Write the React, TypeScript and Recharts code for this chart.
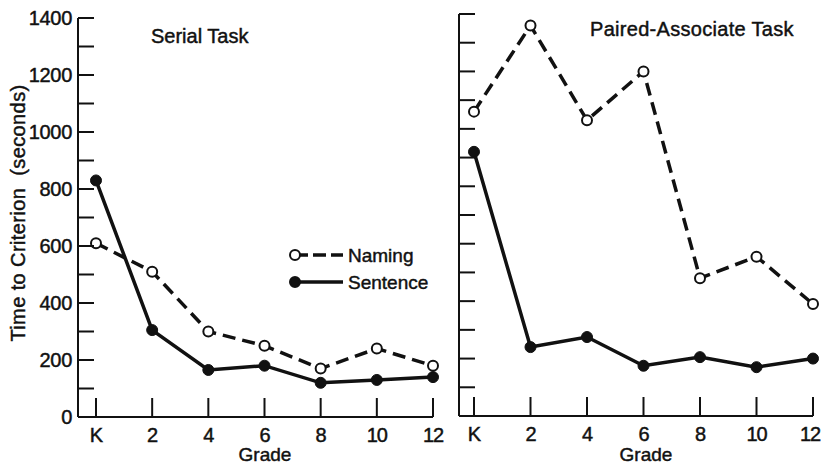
import React from 'react';
import { LineChart, Line, XAxis, YAxis, Legend } from 'recharts';

const grades = ['K', '2', '4', '6', '8', '10', '12'];
const serialNaming = [610, 510, 300, 250, 170, 240, 180];
const serialSentence = [830, 305, 165, 180, 120, 130, 140];
const pairedNaming = [1060, 1360, 1030, 1200, 480, 555, 390];
const pairedSentence = [920, 240, 275, 175, 205, 170, 200];
const yTicks = [0, 100, 200, 300, 400, 500, 600, 700, 800, 900, 1000, 1100, 1200, 1300, 1400];
const yLabelTicks = [0, 200, 400, 600, 800, 1000, 1200, 1400];

const serialData = grades.map((g, i) => ({ grade: g, naming: serialNaming[i], sentence: serialSentence[i] }));
const pairedData = grades.map((g, i) => ({ grade: g, naming: pairedNaming[i], sentence: pairedSentence[i] }));

const FONT = '"Liberation Sans", Arial, sans-serif';
const INK = '#111';
const TXT = { fontFamily: FONT, fill: INK, stroke: INK, strokeWidth: 0.45 };

const YTick = (props: any) => {
  const { x, y, payload, showLabel } = props;
  const v = payload.value;
  return (
    <g>
      {v !== 0 && <line x1={x} x2={x + 16} y1={y} y2={y} stroke={INK} strokeWidth={2} />}
      {showLabel && yLabelTicks.includes(v) && (
        <text x={x - 6} y={y + 7} textAnchor="end" fontSize={20} letterSpacing={-0.3} {...TXT}>
          {v}
        </text>
      )}
    </g>
  );
};

const XTick = (props: any) => {
  const { x, y, payload, maxX } = props;
  return (
    <g>
      <line x1={x} x2={x} y1={y} y2={y - 19} stroke={INK} strokeWidth={2} />
      <text x={Math.min(x, maxX)} y={y + 25} textAnchor="middle" fontSize={20} letterSpacing={-1} {...TXT}>
        {payload.value}
      </text>
    </g>
  );
};

const LegendContent = (props: any) => {
  const payload = props.payload || [];
  return (
    <svg width={160} height={54} style={{ overflow: 'visible', display: 'block' }}>
      {payload.map((p: any, i: number) => {
        const cy = 12 + i * 27;
        const dashed = p.dataKey === 'naming';
        return (
          <g key={p.dataKey}>
            <line x1={9} x2={57} y1={cy} y2={cy} stroke={INK} strokeWidth={3.5} strokeDasharray={dashed ? '13 5' : undefined} />
            <circle cx={9} cy={cy} r={5} fill={dashed ? '#fff' : INK} stroke={INK} strokeWidth={2} />
            <text x={62} y={cy + 7} fontSize={19} {...TXT}>
              {p.value}
            </text>
          </g>
        );
      })}
    </svg>
  );
};

const openDot = { r: 5, fill: '#fff', stroke: INK, strokeWidth: 2, strokeDasharray: '0' };
const fullDot = { r: 5.5, fill: INK, stroke: INK, strokeWidth: 1 };

export default function App() {
  return (
    <div style={{ position: 'absolute', left: 0, top: 0, width: 821, height: 464, background: '#fff', overflow: 'hidden' }}>
      <div style={{ position: 'absolute', left: 0, top: 0 }}>
        <LineChart width={460} height={464} data={serialData} margin={{ top: 18, left: 77, right: 27, bottom: 46 }}>
          <XAxis
            dataKey="grade"
            type="category"
            height={1}
            padding={{ left: 18, right: 0 }}
            tickSize={0}
            tickMargin={0}
            interval={0}
            tickLine={false}
            axisLine={{ stroke: INK, strokeWidth: 2 }}
            tick={(p: any) => <XTick {...p} maxX={1000} />}
          />
          <YAxis
            type="number"
            width={1}
            domain={[0, 1400]}
            ticks={yTicks}
            interval={0}
            tickSize={0}
            tickMargin={0}
            tickLine={false}
            axisLine={{ stroke: INK, strokeWidth: 2 }}
            tick={(p: any) => <YTick {...p} showLabel />}
          />
          <Legend
            layout="vertical"
            align="center"
            verticalAlign="middle"
            content={<LegendContent />}
            wrapperStyle={{ position: 'absolute', left: 286, top: 243, width: 160, height: 54 }}
          />
          <Line
            dataKey="naming"
            name="Naming"
            stroke={INK}
            strokeWidth={3.5}
            strokeDasharray="13 7"
            dot={openDot}
            activeDot={false}
            isAnimationActive={false}
          />
          <Line
            dataKey="sentence"
            name="Sentence"
            stroke={INK}
            strokeWidth={3.5}
            dot={fullDot}
            activeDot={false}
            isAnimationActive={false}
          />
        </LineChart>
      </div>
      <div style={{ position: 'absolute', left: 440, top: 0 }}>
        <LineChart width={381} height={464} data={pairedData} margin={{ top: 14, left: 18, right: 8, bottom: 47 }}>
          <XAxis
            dataKey="grade"
            type="category"
            height={1}
            padding={{ left: 15, right: 0 }}
            tickSize={0}
            tickMargin={0}
            interval={0}
            tickLine={false}
            axisLine={{ stroke: INK, strokeWidth: 2 }}
            tick={(p: any) => <XTick {...p} maxX={370} />}
          />
          <YAxis
            type="number"
            width={1}
            domain={[0, 1400]}
            ticks={yTicks}
            interval={0}
            tickSize={0}
            tickMargin={0}
            tickLine={false}
            axisLine={{ stroke: INK, strokeWidth: 2 }}
            tick={(p: any) => <YTick {...p} showLabel={false} />}
          />
          <Line
            dataKey="naming"
            name="Naming"
            stroke={INK}
            strokeWidth={3.5}
            strokeDasharray="13 7"
            dot={openDot}
            activeDot={false}
            isAnimationActive={false}
          />
          <Line
            dataKey="sentence"
            name="Sentence"
            stroke={INK}
            strokeWidth={3.5}
            dot={fullDot}
            activeDot={false}
            isAnimationActive={false}
          />
        </LineChart>
      </div>
      <svg width={821} height={464} style={{ position: 'absolute', left: 0, top: 0, pointerEvents: 'none' }}>
        <text x={151} y={43} fontSize={20} {...TXT}>Serial Task</text>
        <text x={590} y={36} fontSize={20} letterSpacing={0.3} {...TXT}>Paired-Associate Task</text>
        <text transform="translate(25,213) rotate(-90)" textAnchor="middle" fontSize={20} letterSpacing={0.4} style={{ whiteSpace: 'pre' }} {...TXT}>
          {'Time to Criterion  (seconds)'}
        </text>
        <text x={265} y={461} textAnchor="middle" fontSize={19} {...TXT}>Grade</text>
        <text x={646} y={461} textAnchor="middle" fontSize={19} {...TXT}>Grade</text>
      </svg>
    </div>
  );
}
